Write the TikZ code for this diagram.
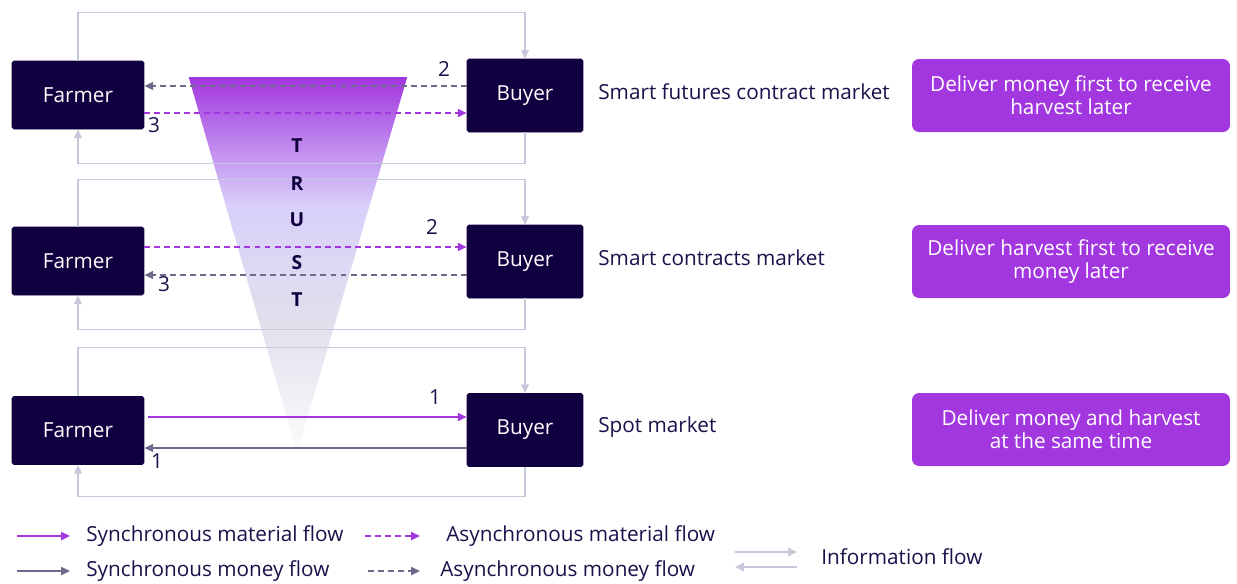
\documentclass[tikz,border=0pt]{standalone}
\usepackage{fontspec}
\setmainfont{Open Sans}
\usetikzlibrary{arrows.meta}
\definecolor{navy}{HTML}{10003F}
\definecolor{grape}{HTML}{A337DF}
\definecolor{slate}{HTML}{6E6A8B}
\definecolor{haze}{HTML}{C8C8DC}
\definecolor{ink}{HTML}{17124A}
\definecolor{lav}{HTML}{D8D0FA}
\definecolor{mist}{HTML}{E2E0EC}
\pgfdeclareverticalshading{trustfade}{100bp}{color(0bp)=(white); color(25bp)=(white!90!mist); color(42bp)=(mist); color(58bp)=(lav); color(75bp)=(grape); color(100bp)=(grape)}
\newcommand\txt{\fontsize{11.8}{13}\selectfont}

\begin{document}
\begin{tikzpicture}[x=0.02cm, y=-0.02cm, >={Triangle[length=5pt,width=4.5pt]},
    party/.style={draw=navy, fill=navy, text=white, rounded corners=1pt, minimum height=1.36cm, font=\txt},
    deal/.style={fill=grape, text=white, rounded corners=4pt, minimum width=6.36cm, minimum height=1.46cm, align=center, font=\txt},
    lab/.style={text=ink, font=\txt, inner sep=0pt},
    letter/.style={text=navy, font=\bfseries\fontsize{11}{12}\selectfont},
    mat/.style={grape, line width=1.1pt},
    money/.style={slate, line width=1.1pt},
    info/.style={haze, line width=0.7pt},
    dashy/.style={dash pattern=on 3.4pt off 2.3pt}]

    \useasboundingbox (0,0) rectangle (1237,583);

    % trust funnel
    \shade[shading=trustfade] (189,78) -- (407,78) -- (297,453) -- cycle;
    \draw[grape, line width=0.6pt] (189,78) -- (407,78);

    % Futures contract
    \node at (78,95) [party, minimum width=2.64cm] (f_1) {Farmer};
    \node at (525,95.5) [party, minimum width=2.32cm, minimum height=1.46cm] (b_1) {Buyer};
    \node[lab, anchor=west] at (598,92) (m_1) {Smart futures contract market};
    \node at (1071,95.5) [deal] (d_1) {Deliver money first to receive\\harvest later};
    \draw[->, money, dashy] (b_1.west |- 0,86) -- (f_1.east |- 0,86);
    \draw[->, mat, dashy] (f_1.east |- 0,113) -- (b_1.west |- 0,113);
    \node[lab] at (444,69) (n_1) {2};
    \node[lab] at (154,125) (n_2) {3};
    \draw[->, info] (f_1.north) -- ++(0,-48) -| (b_1.north);
    \draw[->, info] (b_1.south) -- ++(0,31) -| (f_1.south);

    % Smart contract
    \node at (78,261) [party, minimum width=2.64cm] (f_2) {Farmer};
    \node at (525,261.5) [party, minimum width=2.32cm, minimum height=1.46cm] (b_2) {Buyer};
    \node[lab, anchor=west] at (598,258) (m_2) {Smart contracts market};
    \node at (1071,261.5) [deal] (d_2) {Deliver harvest first to receive\\money later};
    \draw[->, mat, dashy] (f_2.east |- 0,247) -- (b_2.west |- 0,247);
    \draw[->, money, dashy] (b_2.west |- 0,275) -- (f_2.east |- 0,275);
    \node[lab] at (432,227) (n_3) {2};
    \node[lab] at (164,284) (n_4) {3};
    \draw[->, info] (f_2.north) -- ++(0,-47) -| (b_2.north);
    \draw[->, info] (b_2.south) -- ++(0,31) -| (f_2.south);

    % Spot
    \node at (78,430.5) [party, minimum width=2.64cm] (f_3) {Farmer};
    \node at (525,430) [party, minimum width=2.32cm, minimum height=1.46cm] (b_3) {Buyer};
    \node[lab, anchor=west] at (598,427) (m_3) {Spot market};
    \node at (1071,429.5) [deal] (d_3) {Deliver money and harvest\\at the same time};
    \draw[->, mat] ([xshift=2pt]f_3.east |- 0,417) -- (b_3.west |- 0,417);
    \draw[->, money] (b_3.west |- 0,448) -- (f_3.east |- 0,448);
    \node[lab] at (435,397) (n_5) {1};
    \node[lab] at (157,461) (n_6) {1};
    \draw[->, info] (f_3.north) -- ++(0,-49) -| (b_3.north);
    \draw[->, info] (b_3.south) -- ++(0,30) -| (f_3.south);

    % letters on top
    \node[letter] at (297,146) (tr_1) {T};
    \node[letter] at (297,184) (tr_2) {R};
    \node[letter] at (297,220) (tr_3) {U};
    \node[letter] at (297,263) (tr_4) {S};
    \node[letter] at (297,300) (tr_5) {T};

    % legend
    \coordinate (k_1) at (17,536);
    \coordinate (k_2) at (70,536);
    \coordinate (k_3) at (365,536);
    \coordinate (k_4) at (420,536);
    \coordinate (k_5) at (17,571);
    \coordinate (k_6) at (70,571);
    \coordinate (k_7) at (368,571);
    \coordinate (k_8) at (420,571);
    \coordinate (k_9) at (735,552);
    \coordinate (k_10) at (797,552);
    \coordinate (k_11) at (735,567);
    \coordinate (k_12) at (797,567);
    \draw[->, mat] (k_1) -- (k_2);
    \draw[->, mat, dashy] (k_3) -- (k_4);
    \draw[->, money] (k_5) -- (k_6);
    \draw[->, money, dashy] (k_7) -- (k_8);
    \draw[->, info, line width=1.2pt] (k_9) -- (k_10);
    \draw[->, info, line width=1.2pt] (k_12) -- (k_11);
    \node[lab, anchor=west] at (86,536) (t_1) {Synchronous material flow};
    \node[lab, anchor=west] at (446,536) (t_2) {Asynchronous material flow};
    \node[lab, anchor=west] at (86,571) (t_3) {Synchronous money flow};
    \node[lab, anchor=west] at (440,571) (t_4) {Asynchronous money flow};
    \node[lab, anchor=west] at (821,557) (t_5) {Information flow};
\end{tikzpicture}
\end{document}
